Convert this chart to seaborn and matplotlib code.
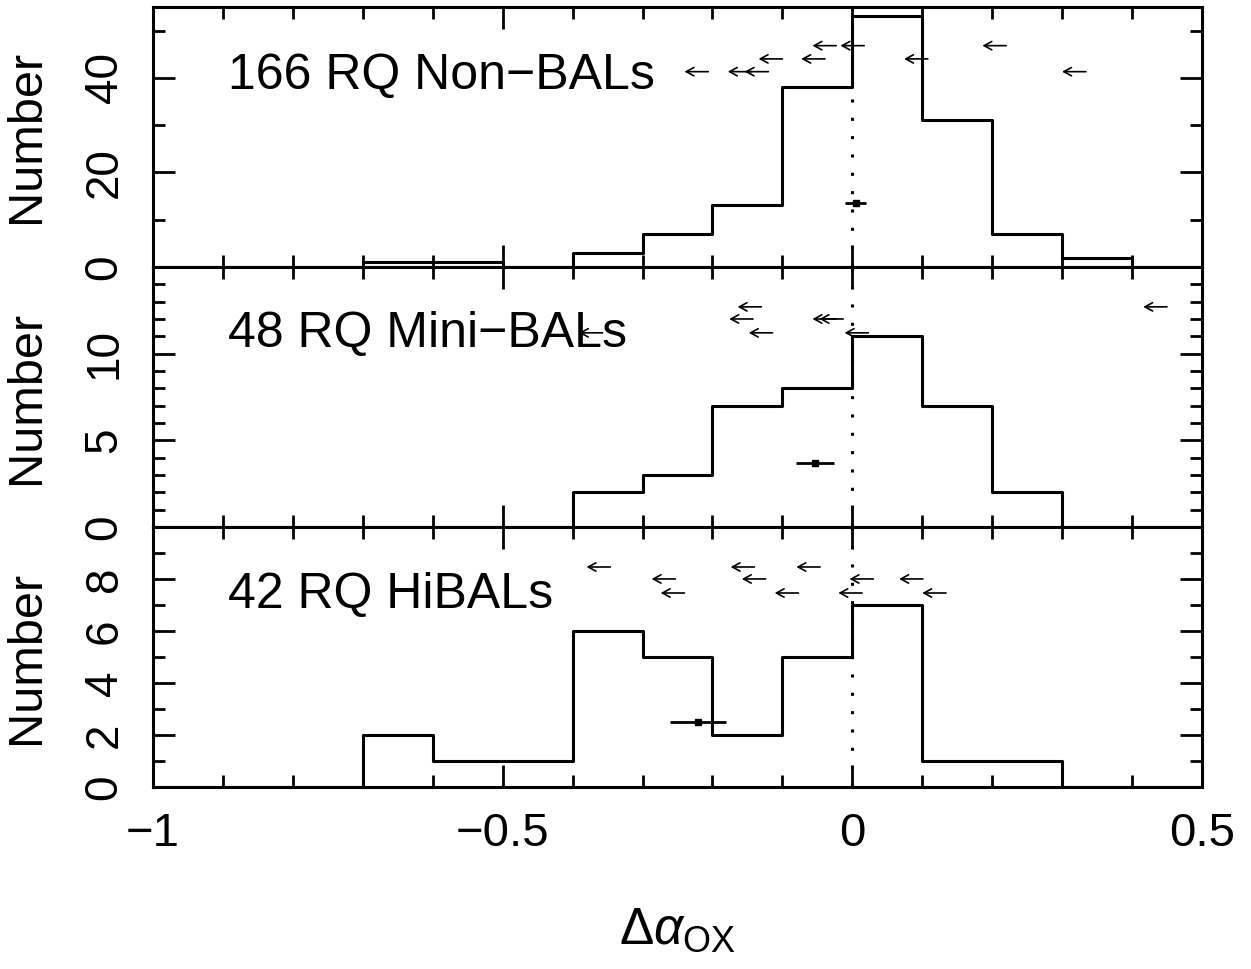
import numpy as np
import pandas as pd
import matplotlib
matplotlib.use("Agg")
import matplotlib.pyplot as plt
from matplotlib.ticker import MultipleLocator
import seaborn as sns

# bin edges of the histograms (width 0.1)
edges = [round(v, 2) for v in np.arange(-1.0, 0.5001, 0.1)]
centers = [(a + b) / 2 for a, b in zip(edges[:-1], edges[1:])]

nonbal_counts = [0, 0, 0, 1, 1, 0, 3, 7, 13, 38, 53, 31, 7, 2, 0]
minibal_counts = [0, 0, 0, 0, 0, 0, 2, 3, 7, 8, 11, 7, 2, 0, 0]
hibal_counts = [0, 0, 0, 2, 1, 1, 6, 5, 2, 5, 7, 1, 1, 0, 0]

# upper limits (arrows)
nonbal_lim_x = [-0.223, -0.161, -0.137, -0.117, -0.056, -0.040, 0.0, 0.091, 0.203, 0.317]
nonbal_lim_y = [41.3, 41.3, 41.3, 44.0, 44.0, 46.8, 46.8, 44.0, 46.8, 41.3]
minibal_lim_x = [-0.374, -0.159, -0.147, -0.131, -0.040, -0.030, 0.006, 0.433]
minibal_lim_y = [11.2, 12.0, 12.7, 11.2, 12.0, 12.0, 11.2, 12.7]
hibal_lim_x = [-0.363, -0.270, -0.257, -0.157, -0.141, -0.094, -0.063, -0.003, 0.013, 0.084, 0.117]
hibal_lim_y = [8.46, 8.0, 7.46, 8.46, 8.0, 7.46, 8.46, 7.46, 8.0, 8.0, 7.46]

# mean and error of each sample
mean_x = [0.005, -0.053, -0.220]
mean_err = [0.015, 0.027, 0.040]
mean_y = [13.6, 3.7, 2.5]

labels = ["166 RQ Non\u2212BALs", "48 RQ Mini\u2212BALs", "42 RQ HiBALs"]
label_y = [37.7, 10.4, 6.9]
ymax = [55, 15, 10]
ymajor = [20, 5, 2]
yminor = [10, 1, 1]

sns.set_style("ticks")
plt.rcParams["font.family"] = ["Liberation Sans", "DejaVu Sans"]
plt.rcParams["mathtext.fontset"] = "custom"
plt.rcParams["mathtext.rm"] = "Liberation Sans"
plt.rcParams["mathtext.it"] = "Liberation Sans:italic"
for key in ["text.color", "axes.labelcolor", "xtick.color", "ytick.color", "axes.edgecolor"]:
    plt.rcParams[key] = "black"

fig = plt.figure(figsize=(12.51, 9.69), dpi=100)
left, width = 0.1223, 0.8385
bottoms = [0.7245, 0.4561, 0.1878]
height = 0.2684

all_counts = [nonbal_counts, minibal_counts, hibal_counts]
all_lx = [nonbal_lim_x, minibal_lim_x, hibal_lim_x]
all_ly = [nonbal_lim_y, minibal_lim_y, hibal_lim_y]

axes = []
for i in range(3):
    ax = fig.add_axes([left, bottoms[i], width, height])
    axes.append(ax)
    df = pd.DataFrame({"center": centers, "count": all_counts[i]})
    sns.histplot(data=df, x="center", weights="count", bins=edges, element="step",
                 fill=False, color="black", linewidth=2.2, ax=ax)
    ax.axvline(0, color="black", lw=2.2, ls=(0, (1, 5)))
    for x, y in zip(all_lx[i], all_ly[i]):
        ax.annotate("", xy=(x - 0.017, y), xytext=(x + 0.017, y),
                    arrowprops=dict(arrowstyle="->,head_length=0.55,head_width=0.3",
                                    lw=1.2, color="black", shrinkA=0, shrinkB=0))
    ax.errorbar(mean_x[i], mean_y[i], xerr=mean_err[i], fmt="s", ms=5,
                color="black", elinewidth=2, capsize=0)
    ax.text(-0.893, label_y[i], labels[i], fontsize=36, va="baseline", ha="left")

    ax.set_xlim(-1, 0.5)
    ax.set_ylim(0, ymax[i])
    ax.xaxis.set_major_locator(MultipleLocator(0.5))
    ax.xaxis.set_minor_locator(MultipleLocator(0.1))
    ax.yaxis.set_major_locator(MultipleLocator(ymajor[i]))
    ax.yaxis.set_minor_locator(MultipleLocator(yminor[i]))
    ax.tick_params(which="both", direction="in", top=True, right=True, width=2)
    ax.tick_params(which="major", length=16)
    ax.tick_params(which="minor", length=8.5)
    ax.tick_params(axis="y", labelsize=33, labelrotation=90, pad=19)
    ax.tick_params(axis="x", labelsize=34, pad=18)
    for s in ax.spines.values():
        s.set_linewidth(2.2)
    ax.set_ylabel("Number", fontsize=35, labelpad=24)
    yt = [t for t in ax.get_yticks() if 0 <= t < ymax[i]]
    ax.set_yticks(yt)
    ax.set_yticklabels([f"{t:g}" for t in yt], va="center")
    ax.set_ylim(0, ymax[i])
    if i < 2:
        ax.tick_params(axis="x", labelbottom=False)
        ax.set_xlabel("")
    else:
        ax.set_xticks([-1, -0.5, 0, 0.5])
        ax.set_xticklabels(["\u22121", "\u22120.5", "0", "0.5"])
        ax.set_xlabel(r"$\Delta\alpha_{\rm OX}$", fontsize=37, labelpad=36)

fig.savefig("out.png", dpi=100)
